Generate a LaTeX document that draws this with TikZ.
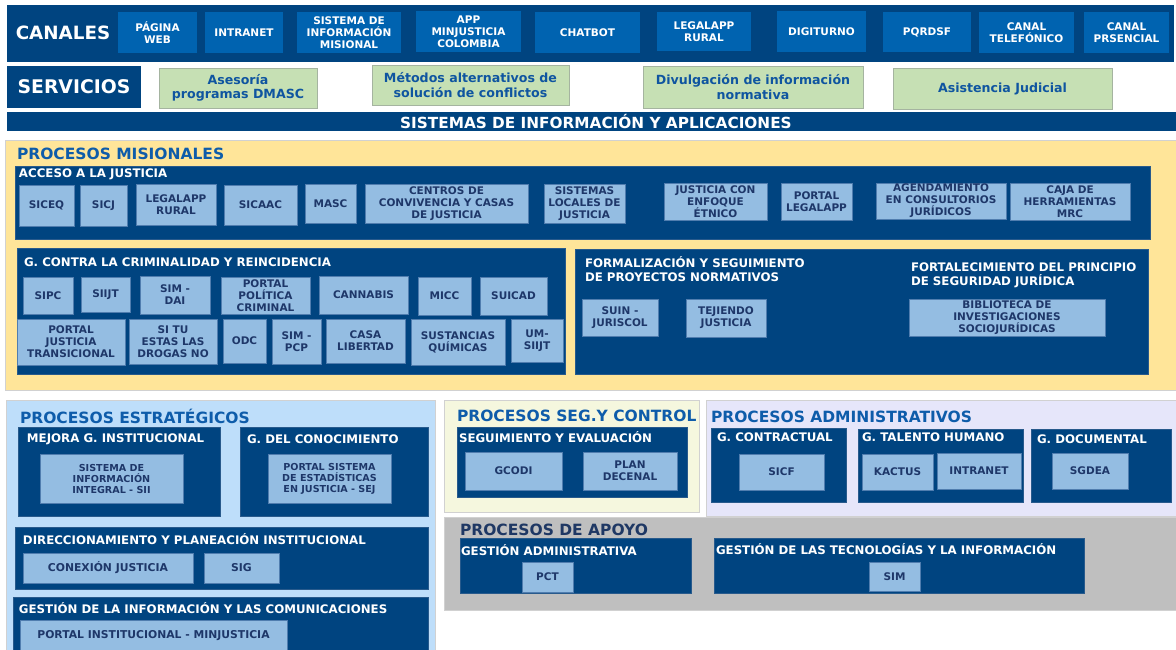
\documentclass[tikz,border=0pt]{standalone}
\usepackage{fontspec}
\setmainfont{DejaVu Sans}
\definecolor{cNavy}{RGB}{0,68,128}
\definecolor{cNavyLine}{RGB}{40,90,140}
\definecolor{cChan}{RGB}{0,99,176}
\definecolor{cLight}{RGB}{148,189,226}
\definecolor{cLightLine}{RGB}{80,125,175}
\definecolor{cLightText}{RGB}{30,55,105}
\definecolor{cGreen}{RGB}{198,224,180}
\definecolor{cGreenLine}{RGB}{165,180,160}
\definecolor{cGreenText}{RGB}{15,85,160}
\definecolor{cYellow}{RGB}{255,229,153}
\definecolor{cTitle}{RGB}{14,92,170}
\definecolor{cSky}{RGB}{190,222,250}
\definecolor{cCream}{RGB}{245,247,222}
\definecolor{cLav}{RGB}{230,230,250}
\definecolor{cGray}{RGB}{191,191,191}
\definecolor{cApoyo}{RGB}{31,56,100}
\newcommand{\myfs}[2]{\fontsize{#1}{#2}\selectfont}
\newcommand{\bx}[7]{\node[#2, minimum width={#5-#3}, minimum height={#6-#4}] (#1) at ({(#3+#5)/2},{(#4+#6)/2}) {#7};}
\newcommand{\tl}[5]{\node[#2] (#1) at (#3,#4) {#5};}
\tikzset{
 every node/.style={inner sep=0pt, outer sep=0pt},
 region/.style={fill=#1, draw=black!18, line width=0.8pt},
 navybox/.style={fill=cNavy, draw=cNavyLine, line width=0.6pt},
 chanbox/.style={fill=cChan, text=white, align=center, font=\bfseries\myfs{10.5}{12}},
 lbox/.style={fill=cLight, draw=cLightLine, line width=0.8pt, text=cLightText, align=center, font=\bfseries\myfs{10.5}{12}},
 gbox/.style={fill=cGreen, draw=cGreenLine, line width=0.8pt, text=cGreenText, align=center, font=\bfseries\myfs{12.6}{14.5}},
 wtitle/.style={anchor=west, text=white, align=left, font=\bfseries\myfs{11.8}{14}},
 ptitle/.style={anchor=west, text=#1, font=\bfseries\myfs{15.5}{18}},
 ptitle/.default=cTitle,
}
\begin{document}
\begin{tikzpicture}[x=1pt,y=-1pt]
\useasboundingbox (0,0) rectangle (1176,649);
\fill[white] (0,0) rectangle (1176,649);

% ---------- CANALES ----------
\bx{canalesbar}{fill=cNavy}{7}{5}{1174}{62}{}
\node[text=white, font=\bfseries\myfs{18.3}{20}] (canales) at (63,33) {CANALES};
\bx{ch1}{chanbox}{118}{12}{197}{53}{PÁGINA\\WEB}
\bx{ch2}{chanbox}{205}{12}{283}{53}{INTRANET}
\bx{ch3}{chanbox}{297}{12}{401}{53}{SISTEMA DE\\INFORMACIÓN\\MISIONAL}
\bx{ch4}{chanbox}{416}{11}{521}{52}{APP\\MINJUSTICIA\\COLOMBIA}
\bx{ch5}{chanbox}{535}{12}{640}{53}{CHATBOT}
\bx{ch6}{chanbox}{657}{12}{751}{51}{LEGALAPP\\RURAL}
\bx{ch7}{chanbox}{777}{11}{866}{52}{DIGITURNO}
\bx{ch8}{chanbox}{883}{12}{971}{52}{PQRDSF}
\bx{ch9}{chanbox}{979}{12}{1074}{53}{CANAL\\TELEFÓNICO}
\bx{ch10}{chanbox}{1084}{12}{1169}{53}{CANAL\\PRSENCIAL}

% ---------- SERVICIOS ----------
\bx{servicios}{fill=cNavy, text=white, font=\bfseries\myfs{18.8}{20}}{7}{66}{141}{108}{SERVICIOS}
\bx{sv1}{gbox}{159}{68}{317}{108}{Asesoría\\programas DMASC}
\bx{sv2}{gbox}{372}{65}{569}{105}{Métodos alternativos de\\solución de conflictos}
\bx{sv3}{gbox}{643}{66}{863}{108}{Divulgación de información\\normativa}
\bx{sv4}{gbox}{893}{68}{1112}{109}{Asistencia Judicial}

% ---------- SISTEMAS ----------
\bx{sisbar}{fill=cNavy}{7}{112}{1176}{131}{}
\node[text=white, font=\bfseries\myfs{15.3}{16}] (sistemas) at (596,122) {SISTEMAS DE INFORMACIÓN Y APLICACIONES};

% ---------- PROCESOS MISIONALES ----------
\bx{misreg}{region=cYellow}{5}{140}{1180}{390}{}
\tl{mistitle}{ptitle}{17}{154}{PROCESOS MISIONALES}

\bx{acceso}{navybox}{15}{166}{1150}{239}{}
\tl{accesot}{wtitle}{19}{174}{ACCESO A LA JUSTICIA}
\bx{a1}{lbox}{19}{185}{74}{226}{SICEQ}
\bx{a2}{lbox}{80}{185}{127}{226}{SICJ}
\bx{a3}{lbox}{136}{184}{216}{225}{LEGALAPP\\RURAL}
\bx{a4}{lbox}{224}{185}{297}{225}{SICAAC}
\bx{a5}{lbox}{305}{184}{356}{223}{MASC}
\bx{a6}{lbox}{365}{184}{528}{223}{CENTROS DE\\CONVIVENCIA Y CASAS\\DE JUSTICIA}
\bx{a7}{lbox}{544}{184}{625}{223}{SISTEMAS\\LOCALES DE\\JUSTICIA}
\bx{a8}{lbox}{664}{183}{767}{220}{JUSTICIA CON\\ENFOQUE\\ÉTNICO}
\bx{a9}{lbox}{781}{183}{852}{220}{PORTAL\\LEGALAPP}
\bx{a10}{lbox}{876}{183}{1006}{219}{AGENDAMIENTO\\EN CONSULTORIOS\\JURÍDICOS}
\bx{a11}{lbox}{1010}{183}{1130}{220}{CAJA DE\\HERRAMIENTAS\\MRC}

\bx{crim}{navybox}{17}{248}{565}{374}{}
\tl{crimt}{wtitle}{24}{262}{G. CONTRA LA CRIMINALIDAD Y REINCIDENCIA}
\bx{c1}{lbox}{23}{277}{73}{314}{SIPC}
\bx{c2}{lbox}{81}{277}{130}{312}{SIIJT}
\bx{c3}{lbox}{140}{276}{210}{314}{SIM -\\DAI}
\bx{c4}{lbox}{221}{277}{310}{314}{PORTAL\\POLÍTICA\\CRIMINAL}
\bx{c5}{lbox}{319}{276}{408}{314}{CANNABIS}
\bx{c6}{lbox}{418}{277}{471}{315}{MICC}
\bx{c7}{lbox}{480}{277}{547}{315}{SUICAD}
\bx{c8}{lbox}{17}{319}{125}{365}{PORTAL\\JUSTICIA\\TRANSICIONAL}
\bx{c9}{lbox}{129}{319}{217}{364}{SI TU\\ESTAS LAS\\DROGAS NO}
\bx{c10}{lbox}{223}{319}{266}{363}{ODC}
\bx{c11}{lbox}{272}{319}{321}{364}{SIM -\\PCP}
\bx{c12}{lbox}{326}{319}{405}{363}{CASA\\LIBERTAD}
\bx{c13}{lbox}{411}{319}{505}{365}{SUSTANCIAS\\QUÍMICAS}
\bx{c14}{lbox}{511}{319}{563}{362}{UM-\\SIIJT}

\bx{formal}{navybox}{575}{249}{1148}{374}{}
\tl{formalt}{wtitle}{585}{269}{FORMALIZACIÓN Y SEGUIMIENTO\\DE PROYECTOS NORMATIVOS}
\tl{fortt}{wtitle}{911}{275}{FORTALECIMIENTO DEL PRINCIPIO\\DE SEGURIDAD JURÍDICA}
\bx{f1}{lbox}{582}{299}{658}{336}{SUIN -\\JURISCOL}
\bx{f2}{lbox}{686}{299}{766}{337}{TEJIENDO\\JUSTICIA}
\bx{f3}{lbox}{909}{299}{1105}{336}{BIBLIOTECA DE\\INVESTIGACIONES\\SOCIOJURÍDICAS}

% ---------- PROCESOS ESTRATEGICOS ----------
\bx{estreg}{region=cSky}{6}{400}{435}{660}{}
\tl{esttitle}{ptitle}{20}{416}{PROCESOS ESTRATÉGICOS}
\bx{mejora}{navybox}{18}{427}{220}{516}{}
\tl{mejorat}{wtitle}{27}{439}{MEJORA G. INSTITUCIONAL}
\bx{e1}{lbox, font=\bfseries\myfs{9.6}{11}}{40}{454}{183}{503}{SISTEMA DE\\INFORMACIÓN\\INTEGRAL - SII}
\bx{conoc}{navybox}{240}{427}{428}{516}{}
\tl{conoct}{wtitle}{247}{439}{G. DEL CONOCIMIENTO}
\bx{e2}{lbox, font=\bfseries\myfs{9.6}{11}}{268}{454}{391}{503}{PORTAL SISTEMA\\DE ESTADÍSTICAS\\EN JUSTICIA - SEJ}
\bx{direc}{navybox}{15}{527}{428}{589}{}
\tl{direct}{wtitle}{23}{539}{DIRECCIONAMIENTO Y PLANEACIÓN INSTITUCIONAL}
\bx{e3}{lbox, font=\bfseries\myfs{10.8}{12}}{23}{553}{193}{583}{CONEXIÓN JUSTICIA}
\bx{e4}{lbox, font=\bfseries\myfs{10.8}{12}}{204}{553}{279}{583}{SIG}
\bx{gesinf}{navybox}{13}{597}{428}{665}{}
\tl{gesinft}{wtitle}{19}{608}{GESTIÓN DE LA INFORMACIÓN Y LAS COMUNICACIONES}
\bx{e5}{lbox, font=\bfseries\myfs{10.8}{12}}{20}{620}{287}{651}{PORTAL INSTITUCIONAL - MINJUSTICIA}

% ---------- PROCESOS SEG. Y CONTROL ----------
\bx{segreg}{region=cCream}{444}{400}{699}{512}{}
\tl{segtitle}{ptitle}{457}{416}{PROCESOS SEG.Y CONTROL}
\bx{seguim}{navybox}{457}{427}{687}{497}{}
\tl{seguimt}{wtitle}{459}{437}{SEGUIMIENTO Y EVALUACIÓN}
\bx{s1}{lbox}{465}{452}{562}{490}{GCODI}
\bx{s2}{lbox}{583}{452}{677}{490}{PLAN\\DECENAL}

% ---------- PROCESOS ADMINISTRATIVOS ----------
\bx{admreg}{region=cLav}{706}{400}{1180}{516}{}
\tl{admtitle}{ptitle}{711}{417}{PROCESOS ADMINISTRATIVOS}
\bx{contr}{navybox}{711}{428}{846}{502}{}
\tl{contrt}{wtitle}{717}{437}{G. CONTRACTUAL}
\bx{d1}{lbox}{739}{454}{824}{490}{SICF}
\bx{talen}{navybox}{858}{429}{1023}{502}{}
\tl{talent}{wtitle}{862}{437}{G. TALENTO HUMANO}
\bx{d2}{lbox}{862}{454}{933}{490}{KACTUS}
\bx{d3}{lbox}{937}{453}{1021}{489}{INTRANET}
\bx{docum}{navybox}{1031}{429}{1171}{502}{}
\tl{documt}{wtitle}{1037}{439}{G. DOCUMENTAL}
\bx{d4}{lbox}{1052}{453}{1128}{489}{SGDEA}

% ---------- PROCESOS DE APOYO ----------
\bx{aporeg}{region=cGray}{444}{517}{1180}{610}{}
\tl{apotitle}{ptitle=cApoyo}{460}{530}{PROCESOS DE APOYO}
\bx{gadm}{navybox}{460}{538}{691}{593}{}
\tl{gadmt}{wtitle}{461}{550}{GESTIÓN ADMINISTRATIVA}
\bx{p1}{lbox}{522}{562}{573}{592}{PCT}
\bx{gtec}{navybox}{714}{538}{1084}{593}{}
\tl{gtect}{wtitle}{716}{549}{GESTIÓN DE LAS TECNOLOGÍAS Y LA INFORMACIÓN}
\bx{p2}{lbox}{869}{562}{920}{591}{SIM}
\end{tikzpicture}
\end{document}
